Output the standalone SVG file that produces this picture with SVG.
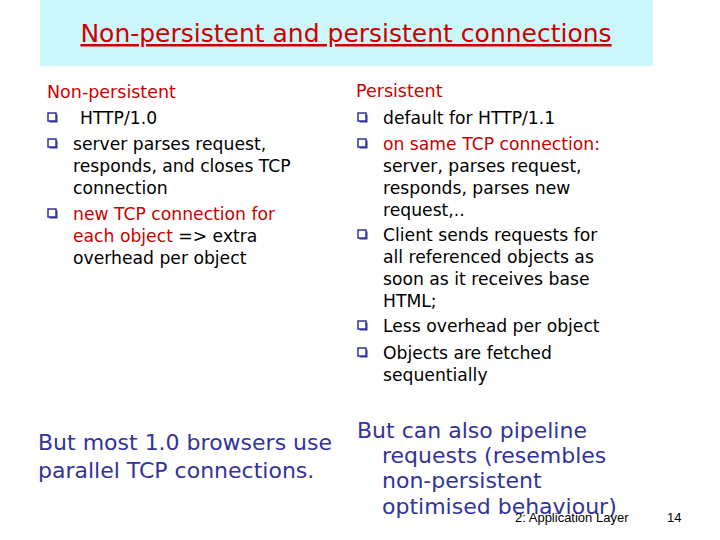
<svg xmlns="http://www.w3.org/2000/svg" width="720" height="540" viewBox="0 0 720 540">
<style>
text{font-family:"DejaVu Sans","Liberation Sans",sans-serif;}
.b{font-size:17.2px;fill:#000;}
.r{fill:#cc0000;}
.h{font-size:17.5px;fill:#cc0000;}
.big{font-size:22px;fill:#333399;}
.blt{fill:#fff;stroke:#333399;stroke-width:1.5;}
.ft{font-size:13px;fill:#000;font-family:"Liberation Sans",sans-serif;}
</style>
<defs><g id="bul"><rect x="1.5" y="1.5" width="8" height="8" fill="#333399"/><rect x="0" y="0" width="8" height="8" class="blt"/></g></defs>
<rect width="720" height="540" fill="#fff"/>
<g id="title">
<rect x="40" y="0" width="613" height="66" fill="#ccf7fa"/>
<text x="346" y="42" text-anchor="middle" style="font-size:25px;fill:#cc0000;text-decoration:underline">Non-persistent and persistent connections</text>
</g>
<g id="left">
<text x="47" y="98" class="h">Non-persistent</text>
<use href="#bul" x="48" y="113"/><text x="80" y="124" class="b">HTTP/1.0</text>
<use href="#bul" x="48" y="139"/><text x="73" y="150" class="b">server parses request,</text>
<text x="73" y="172" class="b">responds, and closes TCP</text>
<text x="73" y="194" class="b">connection</text>
<use href="#bul" x="48" y="209"/><text x="73" y="220" class="b"><tspan class="r">new TCP connection for</tspan></text>
<text x="73" y="242" class="b"><tspan class="r">each object</tspan> =&gt; extra</text>
<text x="73" y="264" class="b">overhead per object</text>
</g>
<g id="right">
<text x="356" y="97" class="h">Persistent</text>
<use href="#bul" x="358" y="113"/><text x="383" y="124" class="b">default for HTTP/1.1</text>
<use href="#bul" x="358" y="139"/><text x="383" y="150" class="b"><tspan class="r">on same TCP connection:</tspan></text>
<text x="383" y="172" class="b">server, parses request,</text>
<text x="383" y="194" class="b">responds, parses new</text>
<text x="383" y="216" class="b">request,..</text>
<use href="#bul" x="358" y="230"/><text x="383" y="241" class="b">Client sends requests for</text>
<text x="383" y="263" class="b">all referenced objects as</text>
<text x="383" y="285" class="b">soon as it receives base</text>
<text x="383" y="307" class="b">HTML;</text>
<use href="#bul" x="358" y="321"/><text x="383" y="332" class="b">Less overhead per object</text>
<use href="#bul" x="358" y="348"/><text x="383" y="359" class="b">Objects are fetched</text>
<text x="383" y="381" class="b">sequentially</text>
</g>
<g id="bottom">
<text x="38" y="450" class="big">But most 1.0 browsers use</text>
<text x="38" y="478" class="big">parallel TCP connections.</text>
<text x="357" y="438" class="big">But can also pipeline</text>
<text x="382" y="463" class="big">requests (resembles</text>
<text x="382" y="488" class="big">non-persistent</text>
<text x="382" y="514" class="big">optimised behaviour)</text>
</g>
<g id="footer">
<text x="515" y="522" class="ft">2: Application Layer</text>
<text x="667" y="522" class="ft">14</text>
</g>
</svg>
